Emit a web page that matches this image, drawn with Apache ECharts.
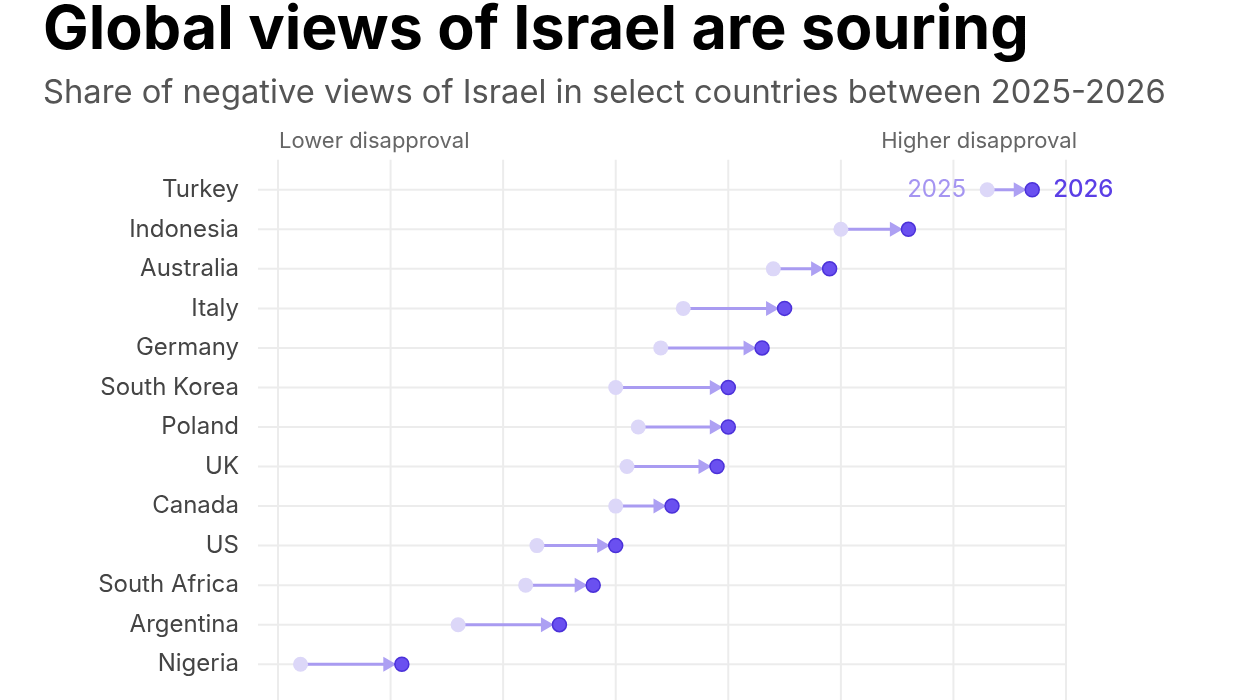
<!DOCTYPE html>
<html><head><meta charset="utf-8">
<script src="https://cdn.jsdelivr.net/npm/echarts@6/dist/echarts.min.js"></script>
<style>html,body{margin:0;padding:0;background:#fff}#c{width:1245px;height:700px}</style>
</head><body><div id="c"></div>
<script>
const countries = ['Turkey','Indonesia','Australia','Italy','Germany','South Korea','Poland','UK','Canada','US','South Africa','Argentina','Nigeria'];
const v2025 = [83,70,64,56,54,50,52,51,50,43,42,36,22];
const v2026 = [87,76,69,65,63,60,60,59,55,50,48,45,31];
const xTicks = [20,30,40,50,60,70,80,90];
const seriesNames = ['2025','2026'];

const font = 'Inter, "Noto Sans", sans-serif';
const chart = echarts.init(document.getElementById('c'), null, {renderer:'canvas'});
const rows = countries.map((c,i)=>[i, v2025[i], v2026[i]]);

const option = {
  backgroundColor:'#fff',
  animation:false,
  title:{
    text:'Global views of Israel are souring',
    subtext:'Share of negative views of Israel in select countries between 2025-2026',
    left:38, top:-5, itemGap:16,
    textStyle:{fontFamily:font, fontSize:61, fontWeight:'bold', color:'#000'},
    subtextStyle:{fontFamily:font, fontSize:32.7, color:'#555'}
  },
  graphic:[
    {type:'text', left:279, top:130, style:{text:'Lower disapproval', font:'22px '+font, fill:'#666'}},
    {type:'text', right:1245-1077, top:130, style:{text:'Higher disapproval', font:'22px '+font, fill:'#666', textAlign:'right'}}
  ],
  grid:{left:278, right:179, top:170, bottom:16},
  xAxis:{type:'value', min:20, max:90, interval:10,
    axisLabel:{show:false}, axisLine:{show:false}, axisTick:{show:false}, splitLine:{show:false}},
  yAxis:{type:'category', inverse:true, data:countries,
    axisLine:{show:false}, axisTick:{show:false}, splitLine:{show:false},
    axisLabel:{fontFamily:font, fontSize:24, color:'#444', margin:39}},
  series:[
    {
      type:'custom', z:1, clip:false, silent:true,
      data: rows,
      encode:{y:0, x:[1,2]},
      renderItem(params, api){
        const idx = api.value(0);
        const a = api.coord([xTicks[0], idx]);
        const b = api.coord([xTicks[xTicks.length-1], idx]);
        const children = [{
          type:'line', shape:{x1:a[0]-20, y1:a[1], x2:b[0], y2:b[1]},
          style:{stroke:'#ececec', lineWidth:2}
        }];
        if (params.dataIndex === 0) {
          const last = api.coord([xTicks[0], countries.length-1]);
          xTicks.forEach(t=>{
            const p = api.coord([t, idx]);
            children.push({type:'line', shape:{x1:p[0], y1:a[1]-30, x2:p[0], y2:last[1]+40},
              style:{stroke:'#ececec', lineWidth:2}});
          });
        }
        return {type:'group', children};
      }
    },
    {
      type:'custom', z:5, clip:false, silent:true,
      data: rows,
      encode:{y:0, x:[1,2]},
      renderItem(params, api){
        const idx = api.value(0);
        const p1 = api.coord([api.value(1), idx]);
        const p2 = api.coord([api.value(2), idx]);
        const r = 7.5, aw = 13, ah = 7.5;
        const tip = p2[0] - r + 2;
        const children = [
          {type:'line', shape:{x1:p1[0], y1:p1[1], x2:tip-aw+2, y2:p1[1]},
            style:{stroke:'#a99bf1', lineWidth:3}},
          {type:'polygon', shape:{points:[[tip, p2[1]],[tip-aw, p2[1]-ah],[tip-aw, p2[1]+ah]]},
            style:{fill:'#ada0f3'}},
          {type:'circle', shape:{cx:p1[0], cy:p1[1], r:r}, style:{fill:'#dcd7f8'}},
          {type:'circle', shape:{cx:p2[0], cy:p2[1], r:r-0.5}, style:{fill:'#6a50f0', stroke:'#4b31d9', lineWidth:1.5}}
        ];
        if (params.dataIndex === 0) {
          children.push({type:'text', x:p1[0]-21, y:p1[1], style:{text:seriesNames[0], font:'24px '+font, fill:'#a595f1', textAlign:'right', textVerticalAlign:'middle'}});
          children.push({type:'text', x:p2[0]+21, y:p2[1], style:{text:seriesNames[1], font:'500 24px '+font, fill:'#5b3fe6', textAlign:'left', textVerticalAlign:'middle'}});
        }
        return {type:'group', children};
      }
    }
  ]
};
chart.setOption(option);
</script></body></html>
